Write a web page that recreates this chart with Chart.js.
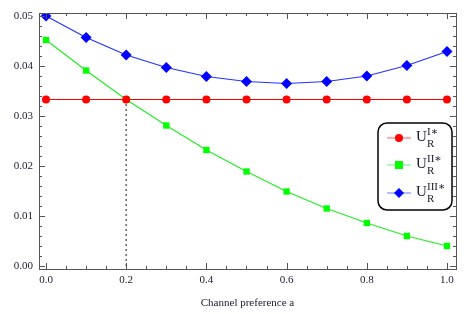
<!DOCTYPE html>
<html>
<head>
<meta charset="utf-8">
<script src="https://cdn.jsdelivr.net/npm/chart.js@4"></script>
<style>
  html, body { margin: 0; padding: 0; background: #fff; }
  #wrap { width: 471px; height: 314px; }
</style>
</head>
<body>
<div id="wrap"><canvas id="chart" width="471" height="314"></canvas></div>
<script>
// Channel preference a (x values)
const aValues = [0.0, 0.1, 0.2, 0.3, 0.4, 0.5, 0.6, 0.7, 0.8, 0.9, 1.0];

// Series
const uI   = [0.0333, 0.0333, 0.0333, 0.0333, 0.0333, 0.0333, 0.0333, 0.0333, 0.0333, 0.0333, 0.0333];
const uII  = [0.0452, 0.0391, 0.0333, 0.0281, 0.0232, 0.0189, 0.0149, 0.0115, 0.0086, 0.0060, 0.0040];
const uIII = [0.0500, 0.0457, 0.0422, 0.0397, 0.0379, 0.0369, 0.0365, 0.0369, 0.0380, 0.0401, 0.0429];

// dotted guide where U_R^II meets U_R^I
const guideX = [0.2, 0.2];
const guideY = [0.0, 0.0333];

const xTicks = [0.0, 0.2, 0.4, 0.6, 0.8, 1.0];
const yTicks = [0.00, 0.01, 0.02, 0.03, 0.04, 0.05];

const legendNames = ['I\u2217', 'II\u2217', 'III\u2217'];

const toPts = (xs, ys) => xs.map((x, i) => ({ x: x, y: ys[i] }));

const SERIF = '"Liberation Serif", "DejaVu Serif", serif';

// draws frame, inward ticks (major + minor) on all four sides, and the legend box
const framePlugin = {
    id: 'frame',
    afterDatasetsDraw(chart) {
        const ctx = chart.ctx;
        const a = chart.chartArea;
        const xs = chart.scales.x, ys = chart.scales.y;
        ctx.save();
        ctx.strokeStyle = '#555';
        ctx.lineWidth = 1;
        ctx.strokeRect(a.left + 0.5, a.top + 0.5, a.right - a.left, a.bottom - a.top);

        // x ticks
        for (let i = 0; i <= 20; i++) {
            const v = i * 0.05;
            const px = Math.round(xs.getPixelForValue(v)) + 0.5;
            const len = (i % 4 === 0) ? 6 : 3;
            ctx.beginPath();
            ctx.moveTo(px, a.bottom); ctx.lineTo(px, a.bottom - len);
            ctx.moveTo(px, a.top); ctx.lineTo(px, a.top + len);
            ctx.stroke();
        }
        // y ticks
        for (let i = 0; i <= 25; i++) {
            const v = i * 0.002;
            const py = Math.round(ys.getPixelForValue(v)) + 0.5;
            const len = (i % 5 === 0) ? 6 : 3;
            ctx.beginPath();
            ctx.moveTo(a.left, py); ctx.lineTo(a.left + len, py);
            ctx.moveTo(a.right, py); ctx.lineTo(a.right - len, py);
            ctx.stroke();
        }

        // legend
        const bx = 378, by = 123, bw = 74, bh = 87, r = 9;
        ctx.fillStyle = '#fff';
        ctx.strokeStyle = '#000';
        ctx.lineWidth = 1.5;
        ctx.beginPath();
        ctx.roundRect(bx, by, bw, bh, r);
        ctx.fill();
        ctx.stroke();

        const rows = [138, 165, 193];
        chart.data.datasets.slice(0, 3).forEach((ds, i) => {
            const y = rows[i];
            ctx.globalAlpha = 0.55;
            ctx.strokeStyle = ds.borderColor;
            ctx.lineWidth = 1.2;
            ctx.beginPath();
            ctx.moveTo(387, y); ctx.lineTo(411, y);
            ctx.stroke();
            ctx.globalAlpha = 1;
            ctx.fillStyle = ds.pointBackgroundColor;
            ctx.beginPath();
            if (ds.pointStyle === 'circle') {
                ctx.arc(399, y, 4, 0, Math.PI * 2);
            } else if (ds.pointStyle === 'rect') {
                ctx.rect(395, y - 4, 8, 8);
            } else {
                ctx.moveTo(399, y - 5); ctx.lineTo(404, y); ctx.lineTo(399, y + 5); ctx.lineTo(394, y);
                ctx.closePath();
            }
            ctx.fill();

            ctx.fillStyle = '#1a1a2e';
            ctx.textBaseline = 'alphabetic';
            ctx.textAlign = 'left';
            ctx.font = '15px ' + SERIF;
            ctx.fillText('U', 416, y + 3);
            ctx.font = '11px ' + SERIF;
            ctx.fillText('R', 427, y + 9);
            ctx.fillText(legendNames[i], 427, y - 3);
        });
        ctx.restore();
    }
};

new Chart(document.getElementById('chart'), {
    type: 'line',
    data: {
        datasets: [
            {
                label: 'U_R^I*',
                data: toPts(aValues, uI),
                borderColor: '#ff0000',
                backgroundColor: '#ff0000',
                pointBackgroundColor: '#ff0000',
                pointBorderWidth: 0,
                pointStyle: 'circle',
                pointRadius: 4,
                borderWidth: 1.2,
                tension: 0
            },
            {
                label: 'U_R^II*',
                data: toPts(aValues, uII),
                borderColor: '#22ee22',
                backgroundColor: '#00ff00',
                pointBackgroundColor: '#00ff00',
                pointBorderWidth: 0,
                pointStyle: 'rect',
                pointRadius: 4.5,
                borderWidth: 1.2,
                tension: 0
            },
            {
                label: 'U_R^III*',
                data: toPts(aValues, uIII),
                borderColor: '#2233ff',
                backgroundColor: '#0000ff',
                pointBackgroundColor: '#0000ff',
                pointBorderWidth: 0,
                pointStyle: 'rectRot',
                pointRadius: 5.5,
                borderWidth: 1.2,
                tension: 0
            },
            {
                label: 'guide',
                data: toPts(guideX, guideY),
                borderColor: '#666',
                borderDash: [2, 3],
                borderWidth: 1.5,
                pointRadius: 0
            }
        ]
    },
    options: {
        responsive: false,
        animation: false,
        layout: { padding: { top: 13, right: 15, left: 0, bottom: 0 } },
        plugins: {
            legend: { display: false },
            tooltip: { enabled: false }
        },
        scales: {
            x: {
                type: 'linear',
                min: -0.0175,
                max: 1.0225,
                afterFit: s => { s.height = 45; },
                afterBuildTicks: s => { s.ticks = xTicks.map(v => ({ value: v })); },
                grid: { display: false, drawTicks: false },
                border: { display: false },
                ticks: {
                    padding: 5,
                    color: '#1a1a2e',
                    font: { family: SERIF, size: 11 },
                    callback: v => v.toFixed(1)
                },
                title: {
                    display: true,
                    text: 'Channel preference a',
                    color: '#1a1a2e',
                    font: { family: SERIF, size: 11 },
                    padding: { top: 10 }
                }
            },
            y: {
                type: 'linear',
                min: -0.0006,
                max: 0.0506,
                afterFit: s => { s.width = 39; },
                afterBuildTicks: s => { s.ticks = yTicks.map(v => ({ value: v })); },
                grid: { display: false, drawTicks: false },
                border: { display: false },
                ticks: {
                    padding: 6,
                    color: '#1a1a2e',
                    font: { family: SERIF, size: 11 },
                    callback: v => v.toFixed(2)
                }
            }
        }
    },
    plugins: [framePlugin]
});
</script>
</body>
</html>
